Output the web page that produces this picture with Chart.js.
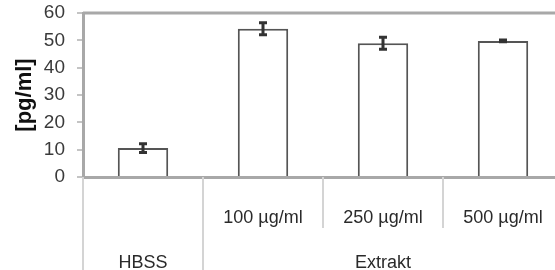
<!DOCTYPE html>
<html>
<head>
<meta charset="utf-8">
<script src="https://cdn.jsdelivr.net/npm/chart.js"></script>
<style>
  html, body { margin: 0; padding: 0; background: #fff; overflow: hidden; }
</style>
</head>
<body>
<canvas id="barChart" width="563" height="270"></canvas>
<script>
// values
const concentrations = ['', '100 µg/ml', '250 µg/ml', '500 µg/ml'];
const groups = ['HBSS', 'Extrakt', 'Extrakt', 'Extrakt'];
const means = [10.6, 54.2, 48.9, 49.8];
const errors = [1.6, 2.2, 2.2, 0.3];
const yTicks = [0, 10, 20, 30, 40, 50, 60];

// group name goes under the middle category of its run
function groupLabel(i) {
  let a = i, b = i;
  while (a > 0 && groups[a - 1] === groups[i]) a--;
  while (b < groups.length - 1 && groups[b + 1] === groups[i]) b++;
  return i === Math.floor((a + b) / 2) ? groups[i] : '';
}
const tickLabels = concentrations.map((c, i) => [c, groupLabel(i)]);

const FONT = "'Liberation Sans', Arial, sans-serif";

const errorBars = {
  id: 'errorBars',
  afterDatasetsDraw(chart) {
    const ctx = chart.ctx;
    const y = chart.scales.y;
    const meta = chart.getDatasetMeta(0);
    ctx.save();
    ctx.strokeStyle = '#333';
    ctx.lineWidth = 3;
    meta.data.forEach((bar, i) => {
      const top = y.getPixelForValue(means[i] + errors[i]);
      const bot = y.getPixelForValue(means[i] - errors[i]);
      ctx.beginPath();
      ctx.moveTo(bar.x, top); ctx.lineTo(bar.x, bot);
      ctx.moveTo(bar.x - 4, top); ctx.lineTo(bar.x + 4, top);
      ctx.moveTo(bar.x - 4, bot); ctx.lineTo(bar.x + 4, bot);
      ctx.stroke();
    });
    ctx.restore();
  }
};

// category dividers under the axis
const dividers = {
  id: 'dividers',
  afterDraw(chart) {
    const ctx = chart.ctx;
    const x = chart.scales.x;
    const area = chart.chartArea;
    const h = chart.height;
    ctx.save();
    ctx.strokeStyle = '#d4d4d4';
    ctx.lineWidth = 2;
    ctx.beginPath();
    ctx.moveTo(area.left, area.bottom); ctx.lineTo(area.left, h);
    for (let i = 1; i < groups.length; i++) {
      const px = (x.getPixelForValue(i - 1) + x.getPixelForValue(i)) / 2;
      const end = groups[i] !== groups[i - 1] ? h : area.bottom + 51;
      ctx.moveTo(px, area.bottom); ctx.lineTo(px, end);
    }
    ctx.stroke();
    // top frame line
    ctx.strokeStyle = '#a8a8a8';
    ctx.lineWidth = 3;
    ctx.beginPath();
    ctx.moveTo(area.left, area.top); ctx.lineTo(area.right, area.top);
    ctx.stroke();
    ctx.restore();
  }
};

new Chart(document.getElementById('barChart'), {
  type: 'bar',
  data: {
    labels: tickLabels,
    datasets: [{
      data: means,
      backgroundColor: '#ffffff',
      borderColor: '#555',
      borderWidth: 2,
      borderSkipped: 'bottom',
      categoryPercentage: 1,
      barPercentage: 0.42
    }]
  },
  options: {
    responsive: false,
    animation: false,
    layout: { padding: { top: 13, left: 0, right: 0, bottom: 0 } },
    plugins: { legend: { display: false }, tooltip: { enabled: false } },
    scales: {
      x: {
        offset: true,
        grid: { display: false },
        border: { color: '#a8a8a8', width: 3 },
        ticks: {
          color: '#2a2a2a',
          padding: 11,
          maxRotation: 0,
          autoSkip: false,
          font: { family: FONT, size: 18, lineHeight: '45px' }
        },
        afterFit(scale) { scale.height = 93; }
      },
      y: {
        min: 0,
        max: 60,
        afterBuildTicks(scale) { scale.ticks = yTicks.map(v => ({ value: v })); },
        grid: {
          drawOnChartArea: false,
          tickLength: 6,
          tickColor: '#c4c4c4',
          lineWidth: 2
        },
        border: { color: '#a8a8a8', width: 3 },
        ticks: {
          color: '#3a3a3a',
          padding: 12,
          autoSkip: false,
          font: { family: FONT, size: 19 }
        },
        title: {
          display: true,
          text: '[pg/ml]',
          color: '#111',
          padding: { top: 12, bottom: 0 },
          font: { family: FONT, size: 22, weight: 'bold' }
        },
        afterFit(scale) {
          scale.width = 83;
          scale.paddingTop = 0;
          scale.paddingBottom = 0;
        }
      }
    }
  },
  plugins: [errorBars, dividers]
});
</script>
</body>
</html>
